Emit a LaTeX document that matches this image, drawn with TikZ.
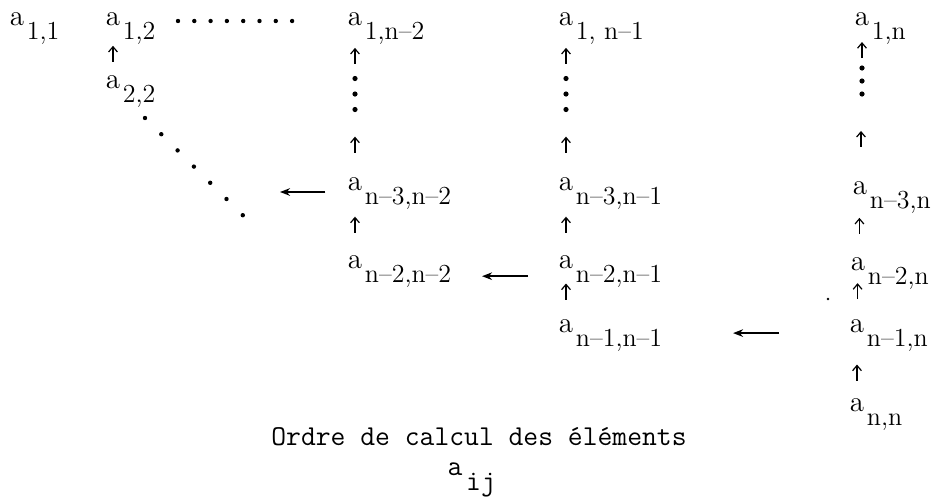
\documentclass[tikz,border=0pt]{standalone}
\usepackage{tikz}
\usetikzlibrary{arrows.meta,calc,positioning}
\newcommand{\elfont}{\fontsize{14.5}{17}\selectfont}
\newcommand{\subfont}{\fontsize{13}{15}\selectfont}
\newcommand{\capfont}{\fontsize{14.4}{17}\selectfont\ttfamily}

\begin{document}
\begin{tikzpicture}[x=0.5pt,y=-0.5pt,
  ela/.style={inner sep=0pt,font=\elfont},
  elsub/.style={inner sep=0pt,anchor=base west,font=\subfont},
  captext/.style={inner sep=0pt,font=\capfont},
  vdotsbox/.style={inner sep=0pt,minimum width=3pt},
  uparr/.style={-{Straight Barb[length=2.6pt,width=4.4pt]},line width=0.6pt,
    to path={($(\tikztostart)!#1!(\tikztotarget)$) ++(0,8) -- ++(0,-16)}},
  uparr/.default=0.5,
  leftarr/.style={-{Stealth[length=5pt,width=3.8pt]},line width=0.9pt,
    to path={($(\tikztostart)!.5!(\tikztotarget)$) ++(23,0) -- ++(-46,0)}}
]
\useasboundingbox (0,0) rectangle (933,499);

% matrix elements: the a and its two indices
\foreach \nm/\x/\y/\sb in {
  e11/17/19/{1,1}, e12/113/19/{1,2}, e22/113/82/{2,2},
  e1n2/355/19/{1,n\textendash2}, e1n1/566/19/{1, n\textendash1}, e1n/862/19/{1,n},
  en3n2/355/184/{n\textendash3,n\textendash2}, en3n1/566/184/{n\textendash3,n\textendash1},
  en3n/860/188/{n\textendash3,n},
  en2n2/355/262/{n\textendash2,n\textendash2}, en2n1/566/262/{n\textendash2,n\textendash1},
  en2n/858/264/{n\textendash2,n},
  en1n1/566/326/{n\textendash1,n\textendash1}, en1n/857/326/{n\textendash1,n},
  enn/857/405/{n,n}}
{
  \node[ela] (\nm) at (\x,\y) {a};
  \node[elsub] (s\nm) at ($(\nm.base east)+(2,14)$) {\sb};
}

% vertical dots
\node[vdotsbox,minimum height=17.9pt] (v3) at (355,94) {};
\node[vdotsbox,minimum height=17.9pt] (v4) at (566,94) {};
\node[vdotsbox,minimum height=15.5pt] (v5) at (862,81) {};
\foreach \v/\d in {v3/15.5,v4/15.5,v5/13}
  \foreach \k in {-1,0,1}
    \fill ($(\v)+(0,\k*\d)$) circle (1.3pt);

% first row and diagonal
\foreach \i in {0,...,7}
  \fill ({178+16.3*\i},21) circle (1.1pt);
\foreach \i in {0,...,6}
  \fill ({145+16.3*\i},{118+16.2*\i}) circle (1.1pt);
\fill (828,299) circle (0.7pt);

% upward steps
\draw[uparr=0.7] (e22.north) to (se12.south -| e12);
\draw[uparr=0.64] (v3.north) to (se1n2.south -| e1n2);
\draw[uparr] (en3n2.north) to (v3.south);
\draw[uparr=0.67] (en2n2.north) to (sen3n2.south -| en3n2);
\draw[uparr=0.64] (v4.north) to (se1n1.south -| e1n1);
\draw[uparr] (en3n1.north) to (v4.south);
\draw[uparr=0.67] (en2n1.north) to (sen3n1.south -| en3n1);
\draw[uparr=0.55] (en1n1.north) to (en2n1.south);
\draw[uparr=0.74] (v5.north) to (se1n.south -| e1n);
\draw[uparr] (en3n.north) to (v5.south);
\draw[uparr=0.72] (en2n.north) to (sen3n.south -| en3n);
\draw[uparr=0.58] (en1n.north) to (en2n.south);
\draw[uparr=0.55] (enn.north) to (sen1n.south -| en1n);

% leftward steps
\coordinate (diagtip) at (280,192);
\draw[leftarr] (en3n2.west |- diagtip) ++(-22,0) -- (diagtip);
\draw[leftarr] (en2n1.west |- sen2n2.east) to (sen2n2.east);
\draw[leftarr] (en1n.west) to (sen1n1.east);

% caption
\node[captext,anchor=base] (cap) at (479,445) {Ordre de calcul des éléments};
\node[captext] (aij) at (455,469) {a};
\node[captext,anchor=base west] (saij) at ($(aij.base east)+(3,15)$) {ij};
\end{tikzpicture}
\end{document}
